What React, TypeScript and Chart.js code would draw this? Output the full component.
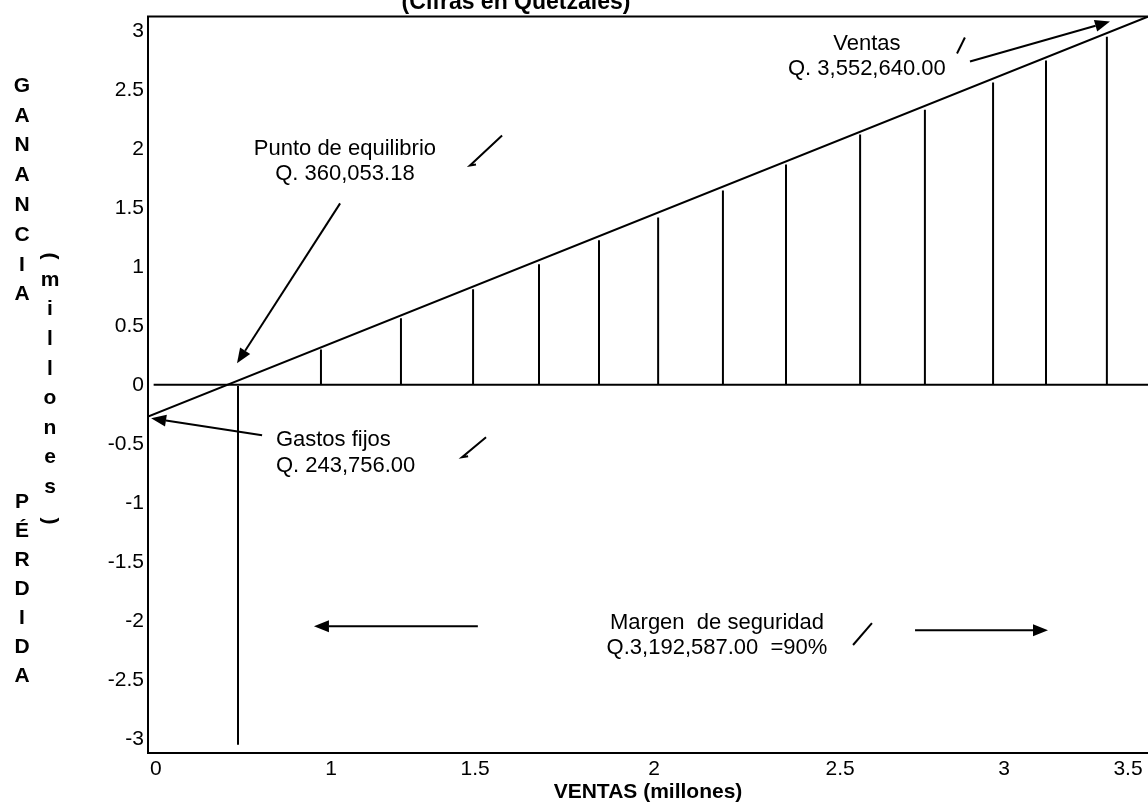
import React, { useEffect, useRef } from 'react';
import { Chart, registerables } from 'chart.js';

Chart.register(...registerables);

// ---------- data ----------
const X_MAX = 3.55;
const Y_MIN = -3.12;
const Y_MAX = 3.12;
const Y_TICKS = [-3, -2.5, -2, -1.5, -1, -0.5, 0, 0.5, 1, 1.5, 2, 2.5, 3];
const X_TICK_VALUES = [0.028, 0.65, 1.161, 1.797, 2.457, 3.039, 3.479];
const X_TICK_LABELS = ['0', '1', '1.5', '2', '2.5', '3', '3.5'];

const PROFIT_X = [0, 3.55];
const PROFIT_Y = [-0.27, 3.12];

const ZERO_X = [0.02, 3.55];
const ZERO_Y = [0, 0];

const BREAK_EVEN_X = [0.3195, 0.3195];
const BREAK_EVEN_Y = [-0.01, -3.05];

const DROP_X = [0.614, 0.898, 1.154, 1.388, 1.601, 1.811, 2.041, 2.265, 2.528, 2.758, 3.0, 3.188, 3.404];
const DROP_TOP = [0.3, 0.563, 0.81, 1.021, 1.224, 1.418, 1.647, 1.867, 2.12, 2.33, 2.561, 2.747, 2.95];

// ---------- annotations (data coordinates) ----------
const ARROWS = [
  { from: [0.682, 1.537], to: [0.316, 0.182] },
  { from: [0.405, -0.428], to: [0.011, -0.284] },
  { from: [2.918, 2.739], to: [3.415, 3.078] },
  { from: [1.171, -2.045], to: [0.589, -2.045] },
  { from: [2.723, -2.079], to: [3.195, -2.079] },
];

const CHECKS = [
  { from: [2.872, 2.807], to: [2.9, 2.943] },
  { from: [1.143, 1.859], to: [1.257, 2.113], hook: true },
  { from: [1.115, -0.613], to: [1.2, -0.444], hook: true },
  { from: [2.503, -2.205], to: [2.57, -2.019] },
];

const NOTES = [
  { text: 'Punto de equilibrio', x: 0.699, y: 1.998, align: 'center' },
  { text: 'Q. 360,053.18', x: 0.699, y: 1.787, align: 'center' },
  { text: 'Ventas', x: 2.552, y: 2.892, align: 'center' },
  { text: 'Q. 3,552,640.00', x: 2.552, y: 2.68, align: 'center' },
  { text: 'Gastos fijos', x: 0.454, y: -0.47, align: 'left' },
  { text: 'Q. 243,756.00', x: 0.454, y: -0.69, align: 'left' },
  { text: 'Margen  de seguridad', x: 2.02, y: -2.019, align: 'center' },
  { text: 'Q.3,192,587.00  =90%', x: 2.02, y: -2.231, align: 'center' },
];

const TITLE = '(Cifras en Quetzales)';
const Y_LABEL_TOP = ['G', 'A', 'N', 'A', 'N', 'C', 'I', 'A'];
const Y_LABEL_MID = ['m', 'i', 'l', 'l', 'o', 'n', 'e', 's'];
const Y_LABEL_BOTTOM = ['P', 'É', 'R', 'D', 'I', 'D', 'A'];
const X_TITLE = 'VENTAS (millones)';

const FONT = '"Liberation Sans", Arial, Helvetica, sans-serif';

function pts(xs: number[], ys: number[]) {
  return xs.map((x, i) => ({ x, y: ys[i] }));
}

function dropData() {
  const out: any[] = [];
  DROP_X.forEach((x, i) => {
    out.push({ x, y: 0 });
    out.push({ x, y: DROP_TOP[i] });
    out.push({ x, y: null });
  });
  return out;
}

function drawArrow(ctx: CanvasRenderingContext2D, x1: number, y1: number, x2: number, y2: number) {
  const ang = Math.atan2(y2 - y1, x2 - x1);
  const len = 15;
  const hw = 6;
  const bx = x2 - len * Math.cos(ang);
  const by = y2 - len * Math.sin(ang);
  ctx.beginPath();
  ctx.moveTo(x1, y1);
  ctx.lineTo(bx, by);
  ctx.stroke();
  ctx.beginPath();
  ctx.moveTo(x2, y2);
  ctx.lineTo(bx + hw * Math.sin(ang), by - hw * Math.cos(ang));
  ctx.lineTo(bx - hw * Math.sin(ang), by + hw * Math.cos(ang));
  ctx.closePath();
  ctx.fill();
}

const annotationPlugin = {
  id: 'annotations',
  afterDraw(chart: any) {
    const { ctx, chartArea } = chart;
    const xs = chart.scales.x;
    const ys = chart.scales.y;
    const px = (v: number) => xs.getPixelForValue(v);
    const py = (v: number) => ys.getPixelForValue(v);
    ctx.save();
    ctx.strokeStyle = '#000';
    ctx.fillStyle = '#000';
    ctx.lineWidth = 2;

    // top frame line
    ctx.beginPath();
    ctx.moveTo(chartArea.left - 1, chartArea.top);
    ctx.lineTo(chartArea.right, chartArea.top);
    ctx.stroke();

    // arrows
    ARROWS.forEach((a) => drawArrow(ctx, px(a.from[0]), py(a.from[1]), px(a.to[0]), py(a.to[1])));

    // check marks
    CHECKS.forEach((c) => {
      const x1 = px(c.from[0]);
      const y1 = py(c.from[1]);
      ctx.beginPath();
      if (c.hook) {
        ctx.moveTo(x1 + 6, y1 - 1);
        ctx.lineTo(x1, y1);
      } else {
        ctx.moveTo(x1, y1);
      }
      ctx.lineTo(px(c.to[0]), py(c.to[1]));
      ctx.stroke();
    });

    // notes
    ctx.font = `22px ${FONT}`;
    ctx.textBaseline = 'middle';
    NOTES.forEach((n) => {
      ctx.textAlign = n.align as CanvasTextAlign;
      ctx.fillText(n.text, px(n.x), py(n.y));
    });

    // title (cut at the top like the reference)
    ctx.font = `bold 23px ${FONT}`;
    ctx.textAlign = 'center';
    ctx.textBaseline = 'alphabetic';
    ctx.fillText(TITLE, 516, 9);

    // vertical y label
    ctx.font = `bold 21px ${FONT}`;
    ctx.textBaseline = 'middle';
    ctx.textAlign = 'center';
    Y_LABEL_TOP.forEach((ch, i) => ctx.fillText(ch, 22, 86 + 29.8 * i));
    Y_LABEL_BOTTOM.forEach((ch, i) => ctx.fillText(ch, 22, 502 + 29 * i));
    Y_LABEL_MID.forEach((ch, i) => ctx.fillText(ch, 50, 280 + 29.6 * i));
    const paren = (ch: string, y: number) => {
      ctx.save();
      ctx.translate(50, y);
      ctx.rotate(Math.PI / 2);
      ctx.fillText(ch, 0, 0);
      ctx.restore();
    };
    paren('(', 256);
    paren(')', 521);

    ctx.restore();
  },
};

export default function App() {
  const ref = useRef<HTMLCanvasElement | null>(null);

  useEffect(() => {
    if (!ref.current) return;
    const lineStyle = {
      borderColor: '#000',
      backgroundColor: '#000',
      borderWidth: 2,
      pointRadius: 0,
      showLine: true,
      fill: false,
      tension: 0,
    };
    const chart = new Chart(ref.current, {
      type: 'scatter',
      data: {
        datasets: [
          { label: 'Ganancia', data: pts(PROFIT_X, PROFIT_Y), ...lineStyle },
          { label: 'Cero', data: pts(ZERO_X, ZERO_Y), ...lineStyle },
          { label: 'Punto de equilibrio', data: pts(BREAK_EVEN_X, BREAK_EVEN_Y), ...lineStyle },
          { label: 'Ganancia por ventas', data: dropData(), ...lineStyle, spanGaps: false },
        ],
      },
      options: {
        animation: false,
        responsive: false,
        maintainAspectRatio: false,
        layout: { padding: { top: 16, left: 0, right: 0, bottom: 0 } },
        plugins: {
          legend: { display: false },
          tooltip: { enabled: false },
          title: { display: false },
        },
        scales: {
          x: {
            type: 'linear',
            min: 0,
            max: X_MAX,
            grid: { display: false, drawTicks: false },
            border: { display: true, color: '#000', width: 2 },
            afterBuildTicks: (scale: any) => {
              scale.ticks = X_TICK_VALUES.map((v) => ({ value: v }));
            },
            afterFit: (scale: any) => {
              scale.height = 53;
            },
            ticks: {
              autoSkip: false,
              maxRotation: 0,
              padding: 4,
              color: '#000',
              font: { family: FONT, size: 21 },
              callback: (_v: any, i: number) => X_TICK_LABELS[i],
            },
            title: {
              display: true,
              text: X_TITLE,
              color: '#000',
              font: { family: FONT, size: 21, weight: 'bold' },
              padding: { top: 0, bottom: 1 },
            },
          },
          y: {
            type: 'linear',
            min: Y_MIN,
            max: Y_MAX,
            grid: { display: false, drawTicks: false },
            border: { display: true, color: '#000', width: 2 },
            afterBuildTicks: (scale: any) => {
              scale.ticks = Y_TICKS.map((v) => ({ value: v }));
            },
            afterFit: (scale: any) => {
              scale.width = 148;
            },
            ticks: {
              padding: 4,
              color: '#000',
              font: { family: FONT, size: 21 },
              callback: (v: any) => String(v),
            },
          },
        },
      },
      plugins: [annotationPlugin],
    } as any);
    return () => chart.destroy();
  }, []);

  return (
    <div style={{ position: 'absolute', left: 0, top: 0, width: 1148, height: 806, background: '#fff' }}>
      <canvas ref={ref} width={1148} height={806} style={{ display: 'block' }} />
    </div>
  );
}
